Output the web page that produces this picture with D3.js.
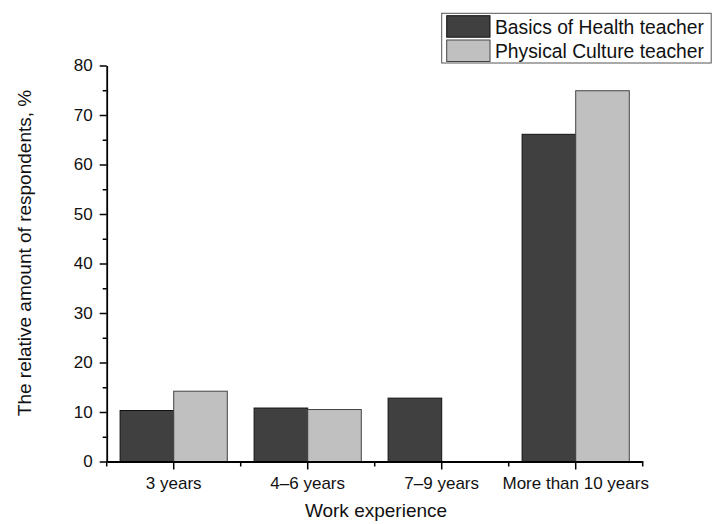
<!DOCTYPE html>
<html>
<head>
<meta charset="utf-8">
<script src="https://cdn.jsdelivr.net/npm/d3@7"></script>
<style>
  body { margin: 0; background: #fff; }
  svg { display: block; font-family: "Liberation Sans", Arial, sans-serif; }
</style>
</head>
<body>
<svg id="chart" width="712" height="524"></svg>
<script>
const categories = ["3 years", "4\u20136 years", "7\u20139 years", "More than 10 years"];
const seriesNames = ["Basics of Health teacher", "Physical Culture teacher"];
const basicsOfHealth = [10.3, 10.8, 12.8, 66.1];
const physicalCulture = [14.2, 10.5, 0, 74.9];
const yMajorTicks = [0, 10, 20, 30, 40, 50, 60, 70, 80];
const yMinorTicks = [5, 15, 25, 35, 45, 55, 65, 75];
const xTitle = "Work experience";
const yTitle = "The relative amount of respondents, %";
const colors = ["#404040", "#c0c0c0"];
const strokes = ["#111", "#444"];

(function () {
const svg = d3.select("#chart");
const pLeft = 106.7, pRight = 642.7, pTop = 65.5, pBottom = 461.5;

const x = d3.scaleBand().domain(categories).range([pLeft, pRight]).paddingInner(0).paddingOuter(0);
const xs = d3.scaleBand().domain(seriesNames).range([0, x.bandwidth()]).paddingInner(0).paddingOuter(0.25);
const y = d3.scaleLinear().domain([0, 80]).range([pBottom, pTop]);

const table = categories.map((c, i) => ({ cat: c, vals: [basicsOfHealth[i], physicalCulture[i]] }));

// bars
const groups = svg.append("g").selectAll("g").data(table).join("g")
  .attr("transform", d => `translate(${x(d.cat)},0)`);
groups.selectAll("rect")
  .data(d => d.vals.map((v, j) => ({ v, j })).filter(e => e.v > 0))
  .join("rect")
  .attr("x", e => xs(seriesNames[e.j]))
  .attr("y", e => y(e.v))
  .attr("width", xs.bandwidth())
  .attr("height", e => y(0) - y(e.v))
  .attr("fill", e => colors[e.j])
  .attr("stroke", e => strokes[e.j])
  .attr("stroke-width", 1);

// y axis
svg.append("g").attr("transform", `translate(${pLeft},0)`)
  .call(d3.axisLeft(y).tickValues(yMajorTicks).tickSize(7).tickSizeOuter(0).tickPadding(7));
svg.append("g").attr("transform", `translate(${pLeft},0)`)
  .call(d3.axisLeft(y).tickValues(yMinorTicks).tickSize(4).tickFormat("").tickSizeOuter(0))
  .call(g => g.select(".domain").remove());

// x axis
svg.append("g").attr("transform", `translate(0,${pBottom})`)
  .call(d3.axisBottom(x).tickSize(8).tickSizeOuter(0).tickPadding(7));
const bounds = categories.map(c => x(c)).concat([x.range()[1]]);
svg.append("g").selectAll("line").data(bounds).join("line")
  .attr("x1", d => d).attr("x2", d => d)
  .attr("y1", pBottom).attr("y2", pBottom + 5)
  .attr("stroke", "#000").attr("stroke-width", 1.5);

svg.selectAll(".tick text").attr("font-size", 17).attr("fill", "#111").attr("font-family", "Liberation Sans, Arial, sans-serif");
svg.selectAll(".domain").attr("stroke-width", 1.8);
svg.selectAll(".tick line").attr("stroke-width", 1.5);

// axis titles
svg.append("text").attr("x", 376).attr("y", 517)
  .attr("text-anchor", "middle").attr("font-size", 19).attr("fill", "#111").text(xTitle);
svg.append("text").attr("transform", `translate(31,253) rotate(-90)`)
  .attr("text-anchor", "middle").attr("font-size", 19).attr("fill", "#111").text(yTitle);

// legend
const lg = svg.append("g");
lg.append("rect").attr("x", 441.7).attr("y", 13.3).attr("width", 269.5).attr("height", 49.7)
  .attr("fill", "#fff").attr("stroke", "#555").attr("stroke-width", 1);
seriesNames.forEach((s, i) => {
  lg.append("rect").attr("x", 446.7).attr("y", 15.7 + i * 24.3).attr("width", 43.3).attr("height", 21.5)
    .attr("fill", colors[i]).attr("stroke", strokes[i]).attr("stroke-width", 1);
  lg.append("text").attr("x", 495).attr("y", 33.5 + i * 24.3).attr("font-size", 19.3).attr("fill", "#111").text(s);
});
})();
</script>
</body>
</html>
